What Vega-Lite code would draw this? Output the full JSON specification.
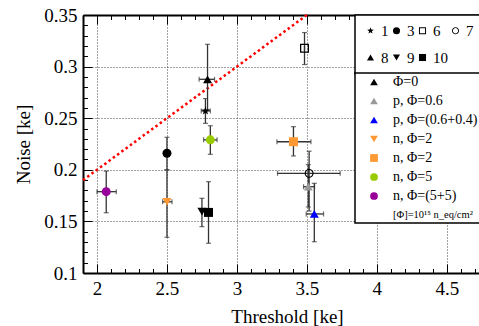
{
  "$schema": "https://vega.github.io/schema/vega-lite/v6.json",
  "width": 396,
  "height": 258,
  "autosize": {"type": "none"},
  "padding": {"left": 83, "top": 15, "right": 0, "bottom": 53},
  "background": "white",
  "config": {
    "view": {"stroke": null},
    "font": "Liberation Serif",
    "legend": {"labelFont": "Liberation Serif", "labelColor": "black", "strokeColor": "black", "fillColor": "white", "strokeWidth": 1.5}
  },
  "datasets": {
    "pts": [
      {"det": "1", "key": "k1", "thr": 2.775, "noise": 0.257, "thr_lo": 2.745, "thr_hi": 2.81, "noise_lo": 0.245, "noise_hi": 0.269},
      {"det": "3", "key": "k1", "thr": 2.5, "noise": 0.216, "thr_lo": 2.5, "thr_hi": 2.5, "noise_lo": 0.2, "noise_hi": 0.2315},
      {"det": "6", "key": "k1", "thr": 3.483, "noise": 0.3177, "thr_lo": 3.483, "thr_hi": 3.483, "noise_lo": 0.302, "noise_hi": 0.333},
      {"det": "7", "key": "k1", "thr": 3.516, "noise": 0.1966, "thr_lo": 3.29, "thr_hi": 3.738, "noise_lo": 0.16, "noise_hi": 0.218},
      {"det": "8", "key": "k1", "thr": 2.79, "noise": 0.2877, "thr_lo": 2.73, "thr_hi": 2.84, "noise_lo": 0.258, "noise_hi": 0.3216},
      {"det": "9", "key": "k1", "thr": 2.75, "noise": 0.1594, "thr_lo": 2.75, "thr_hi": 2.75, "noise_lo": 0.1449, "noise_hi": 0.1724},
      {"det": "10", "key": "k1", "thr": 2.797, "noise": 0.1587, "thr_lo": 2.797, "thr_hi": 2.797, "noise_lo": 0.1288, "noise_hi": 0.1885},
      {"det": "8", "key": "k2", "thr": 3.51, "noise": 0.1836, "thr_lo": 3.476, "thr_hi": 3.555, "noise_lo": 0.164, "noise_hi": 0.205},
      {"det": "8", "key": "k3", "thr": 3.553, "noise": 0.1572, "thr_lo": 3.495, "thr_hi": 3.619, "noise_lo": 0.1303, "noise_hi": 0.1869},
      {"det": "9", "key": "k4", "thr": 2.5, "noise": 0.169, "thr_lo": 2.469, "thr_hi": 2.536, "noise_lo": 0.1346, "noise_hi": 0.2},
      {"det": "10", "key": "k5", "thr": 3.404, "noise": 0.2272, "thr_lo": 3.286, "thr_hi": 3.529, "noise_lo": 0.2134, "noise_hi": 0.2418},
      {"det": "3", "key": "k6", "thr": 2.81, "noise": 0.229, "thr_lo": 2.762, "thr_hi": 2.858, "noise_lo": 0.215, "noise_hi": 0.2427},
      {"det": "3", "key": "k7", "thr": 2.066, "noise": 0.1788, "thr_lo": 2.0, "thr_hi": 2.138, "noise_lo": 0.1584, "noise_hi": 0.1988}
    ],
    "limit": [
      {"thr": 1.9, "noise": 0.19},
      {"thr": 3.5, "noise": 0.35}
    ]
  },
  "resolve": {
    "scale": {"shape": "independent", "color": "independent"},
    "axis": {"x": "independent", "y": "independent"},
    "legend": {"shape": "independent", "color": "independent"}
  },
  "layer": [
    {
      "data": {"name": "limit"},
      "mark": {"type": "line", "color": "#ff0000", "strokeWidth": 2.5, "strokeDash": [2.5, 2.8], "strokeCap": "butt"},
      "encoding": {
        "x": {"field": "thr", "type": "quantitative", "scale": {"domain": [1.9, 4.73], "nice": false, "zero": false},
          "axis": {
            "orient": "bottom", "title": "Threshold [ke]",
            "values": [2, 2.5, 3, 3.5, 4, 4.5],
            "format": "~g",
            "grid": true, "gridColor": "#444", "gridDash": [1, 2], "gridWidth": 1,
            "tickSize": -9, "tickColor": "black", "tickWidth": 1,
            "domainColor": "black", "domainWidth": 2,
            "labelFont": "Liberation Serif", "labelFontSize": 19, "labelColor": "black", "labelPadding": 15,
            "titleFont": "Liberation Serif", "titleFontSize": 19, "titleFontWeight": "normal", "titleColor": "black", "titlePadding": 9, "titleX": 204
          }},
        "y": {"field": "noise", "type": "quantitative", "scale": {"domain": [0.1, 0.35], "nice": false, "zero": false},
          "axis": {
            "orient": "left", "title": "Noise [ke]",
            "values": [0.1, 0.15, 0.2, 0.25, 0.3, 0.35],
            "format": "~g",
            "grid": true, "gridColor": "#444", "gridDash": [1, 2], "gridWidth": 1,
            "tickSize": -9, "tickColor": "black", "tickWidth": 1,
            "domainColor": "black", "domainWidth": 2,
            "labelFont": "Liberation Serif", "labelFontSize": 19, "labelColor": "black", "labelPadding": 15,
            "titleFont": "Liberation Serif", "titleFontSize": 19, "titleFontWeight": "normal", "titleColor": "black", "titlePadding": 10
          }}
      }
    },
    {
      "data": {"name": "pts"},
      "mark": {"type": "rule", "color": "#333", "strokeWidth": 1.3},
      "encoding": {
        "x": {"field": "thr", "type": "quantitative", "scale": {"domain": [1.9, 4.73], "nice": false, "zero": false},
          "axis": {
            "orient": "top", "title": null, "labels": false, "grid": false,
            "values": [2, 2.5, 3, 3.5, 4, 4.5],
            "tickSize": -9, "tickColor": "black", "tickWidth": 1, "domainColor": "black", "domainWidth": 2
          }},
        "y": {"field": "noise_lo", "type": "quantitative", "scale": {"domain": [0.1, 0.35], "nice": false, "zero": false},
          "axis": {
            "orient": "left", "title": null, "labels": false, "grid": false, "domain": false,
            "values": [0.11,0.12,0.13,0.14,0.16,0.17,0.18,0.19,0.21,0.22,0.23,0.24,0.26,0.27,0.28,0.29,0.31,0.32,0.33,0.34],
            "tickSize": -4.5, "tickColor": "black", "tickWidth": 1
          }},
        "y2": {"field": "noise_hi"}
      }
    },
    {
      "data": {"name": "pts"},
      "mark": {"type": "rule", "color": "#333", "strokeWidth": 1.3},
      "encoding": {
        "x": {"field": "thr_lo", "type": "quantitative", "scale": {"domain": [1.9, 4.73], "nice": false, "zero": false},
          "axis": {
            "orient": "bottom", "title": null, "labels": false, "grid": false, "domain": false,
            "values": [1.9,2.1,2.2,2.3,2.4,2.6,2.7,2.8,2.9,3.1,3.2,3.3,3.4,3.6,3.7,3.8,3.9,4.1,4.2,4.3,4.4,4.6,4.7],
            "tickSize": -4.5, "tickColor": "black", "tickWidth": 1
          }},
        "x2": {"field": "thr_hi"},
        "y": {"field": "noise", "type": "quantitative", "scale": {"domain": [0.1, 0.35], "nice": false, "zero": false}, "axis": null}
      }
    },
    {
      "data": {"name": "pts"},
      "mark": {"type": "tick", "orient": "horizontal", "color": "#333", "size": 5, "thickness": 1.2},
      "encoding": {
        "x": {"field": "thr", "type": "quantitative", "scale": {"domain": [1.9, 4.73], "nice": false, "zero": false},
          "axis": {
            "orient": "top", "title": null, "labels": false, "grid": false, "domain": false,
            "values": [1.9,2.1,2.2,2.3,2.4,2.6,2.7,2.8,2.9,3.1,3.2,3.3,3.4,3.6,3.7,3.8,3.9,4.1,4.2,4.3,4.4,4.6,4.7],
            "tickSize": -4.5, "tickColor": "black", "tickWidth": 1
          }},
        "y": {"field": "noise_hi", "type": "quantitative", "scale": {"domain": [0.1, 0.35], "nice": false, "zero": false}, "axis": null}
      }
    },
    {
      "data": {"name": "pts"},
      "mark": {"type": "tick", "orient": "horizontal", "color": "#333", "size": 5, "thickness": 1.2},
      "encoding": {
        "x": {"field": "thr", "type": "quantitative", "scale": {"domain": [1.9, 4.73], "nice": false, "zero": false}, "axis": null},
        "y": {"field": "noise_lo", "type": "quantitative", "scale": {"domain": [0.1, 0.35], "nice": false, "zero": false}, "axis": null}
      }
    },
    {
      "data": {"name": "pts"},
      "mark": {"type": "tick", "orient": "vertical", "color": "#333", "size": 5, "thickness": 1.2},
      "encoding": {
        "x": {"field": "thr_lo", "type": "quantitative", "scale": {"domain": [1.9, 4.73], "nice": false, "zero": false}, "axis": null},
        "y": {"field": "noise", "type": "quantitative", "scale": {"domain": [0.1, 0.35], "nice": false, "zero": false}, "axis": null}
      }
    },
    {
      "data": {"name": "pts"},
      "mark": {"type": "tick", "orient": "vertical", "color": "#333", "size": 5, "thickness": 1.2},
      "encoding": {
        "x": {"field": "thr_hi", "type": "quantitative", "scale": {"domain": [1.9, 4.73], "nice": false, "zero": false}, "axis": null},
        "y": {"field": "noise", "type": "quantitative", "scale": {"domain": [0.1, 0.35], "nice": false, "zero": false}, "axis": null}
      }
    },
    {
      "data": {"name": "pts"},
      "mark": {"type": "point", "filled": true, "size": 81, "opacity": 1, "strokeWidth": 0},
      "encoding": {
        "x": {"field": "thr", "type": "quantitative", "scale": {"domain": [1.9, 4.73], "nice": false, "zero": false}, "axis": null},
        "y": {"field": "noise", "type": "quantitative", "scale": {"domain": [0.1, 0.35], "nice": false, "zero": false}, "axis": null},
        "shape": {"field": "det", "type": "nominal",
          "scale": {"domain": ["1", "3", "6", "7", "8", "9", "10"],
            "range": [
              "M0,-1L0.235,-0.324L0.951,-0.309L0.38,0.124L0.588,0.809L0,0.4L-0.588,0.809L-0.38,0.124L-0.951,-0.309L-0.235,-0.324Z",
              "circle",
              "M-1,-1L1,-1L1,1L-1,1ZM-0.72,-0.72L-0.72,0.72L0.72,0.72L0.72,-0.72Z",
              "M1,0L0.924,0.383L0.707,0.707L0.383,0.924L0,1L-0.383,0.924L-0.707,0.707L-0.924,0.383L-1,0L-0.924,-0.383L-0.707,-0.707L-0.383,-0.924L0,-1L0.383,-0.924L0.707,-0.707L0.924,-0.383ZM0.75,0L0.693,-0.287L0.53,-0.53L0.287,-0.693L0,-0.75L-0.287,-0.693L-0.53,-0.53L-0.693,-0.287L-0.75,0L-0.693,0.287L-0.53,0.53L-0.287,0.693L0,0.75L0.287,0.693L0.53,0.53L0.693,0.287Z",
              "triangle-up",
              "triangle-down",
              "square"
            ]},
          "legend": {
            "orient": "none", "legendX": 272, "legendY": 0, "title": null,
            "direction": "horizontal", "columns": 4, "gridAlign": "each",
            "columnPadding": 0, "rowPadding": 11, "padding": 8,
            "labelFont": "Liberation Serif", "labelFontSize": 15, "labelOffset": 3, "symbolSize": 50,
            "symbolFillColor": "black", "symbolStrokeColor": "black", "symbolStrokeWidth": 0, "symbolOpacity": 1,
            "encode": {"labels": {"update": {"font": {"value": "Liberation Serif"}}}}
          }},
        "color": {"field": "key", "type": "nominal",
          "scale": {"domain": ["k1", "k2", "k3", "k4", "k5", "k6", "k7", "k8"],
            "range": ["#000000", "#999999", "#0000ff", "#ff9933", "#ff9933", "#99cc00", "#990099", "#ffffff"]},
          "legend": null}
      }
    },
    {
      "data": {"name": "pts"},
      "mark": {"type": "point", "filled": true, "size": 60, "opacity": 0},
      "encoding": {
        "x": {"field": "thr", "type": "quantitative", "scale": {"domain": [1.9, 4.73], "nice": false, "zero": false}, "axis": null},
        "y": {"field": "noise", "type": "quantitative", "scale": {"domain": [0.1, 0.35], "nice": false, "zero": false}, "axis": null},
        "shape": {"field": "key", "type": "nominal",
          "scale": {"domain": ["k1", "k2", "k3", "k4", "k5", "k6", "k7", "k8"],
            "range": ["triangle-up", "triangle-up", "triangle-up", "triangle-down", "square", "circle", "circle", "M0,0"]},
          "legend": {
            "orient": "none", "legendX": 272, "legendY": 58, "title": null,
            "padding": 2, "rowPadding": 5, "symbolOffset": 10, "labelOffset": 12,
            "labelFont": "Liberation Serif", "labelFontSize": 14, "symbolSize": 60, "symbolOpacity": 1, "symbolStrokeWidth": 0,
            "labelExpr": "datum.value==='k1' ? '\u00a0\u00a0\u00a0Φ=0' : datum.value==='k2' ? 'p, Φ=0.6' : datum.value==='k3' ? 'p, Φ=(0.6+0.4)' : datum.value==='k4' ? 'n, Φ=2' : datum.value==='k5' ? 'n, Φ=2' : datum.value==='k6' ? 'n, Φ=5' : datum.value==='k7' ? 'n, Φ=(5+5)' : '[Φ]=10¹⁵ n_eq/cm²'",
            "encode": {"labels": {"update": {"font": {"value": "Liberation Serif"}, "fontSize": {"signal": "datum.value==='k8' ? 10.5 : 14"}}}}
          }},
        "color": {"field": "key", "type": "nominal",
          "scale": {"domain": ["k1", "k2", "k3", "k4", "k5", "k6", "k7", "k8"],
            "range": ["#000000", "#999999", "#0000ff", "#ff9933", "#ff9933", "#99cc00", "#990099", "#ffffff"]},
          "legend": {"orient": "none", "legendX": 272, "legendY": 58, "title": null,
            "padding": 2, "rowPadding": 5, "symbolOffset": 10, "labelOffset": 12,
            "labelFont": "Liberation Serif", "labelFontSize": 14, "symbolSize": 60, "symbolOpacity": 1, "symbolStrokeWidth": 0,
            "labelExpr": "datum.value==='k1' ? '\u00a0\u00a0\u00a0Φ=0' : datum.value==='k2' ? 'p, Φ=0.6' : datum.value==='k3' ? 'p, Φ=(0.6+0.4)' : datum.value==='k4' ? 'n, Φ=2' : datum.value==='k5' ? 'n, Φ=2' : datum.value==='k6' ? 'n, Φ=5' : datum.value==='k7' ? 'n, Φ=(5+5)' : '[Φ]=10¹⁵ n_eq/cm²'",
            "encode": {"labels": {"update": {"font": {"value": "Liberation Serif"}, "fontSize": {"signal": "datum.value==='k8' ? 10.5 : 14"}}}}
          }}
      }
    }
  ]
}
